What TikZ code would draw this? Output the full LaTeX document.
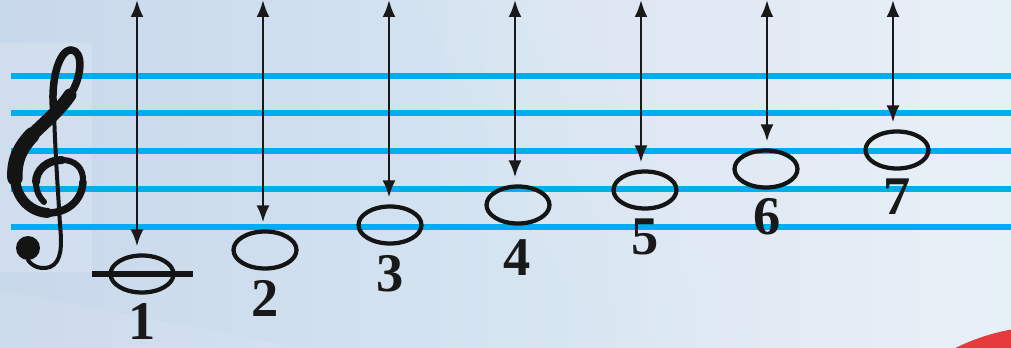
\documentclass[tikz,border=0pt]{standalone}
\usepackage{fontspec}
\setmainfont{Liberation Serif}
\usetikzlibrary{arrows.meta,shapes.geometric}
\definecolor{staffblue}{HTML}{00AEEF}
\definecolor{bgleft}{HTML}{C8D8EB}
\definecolor{bgright}{HTML}{E2F0F7}
\definecolor{ballred}{HTML}{E63B3B}
\begin{document}
\begin{tikzpicture}[x=0.02cm,y=-0.02cm,
  staff/.style={staffblue,line width=0.12cm},
  note/.style={ellipse,draw=black!92,line width=0.085cm,minimum width=1.26cm,minimum height=0.74cm,inner sep=0pt},
  num/.style={font=\fontsize{31}{31}\selectfont\bfseries,inner sep=0pt,text=black!90},
  dbl/.style={{Latex[length=0.34cm,width=0.26cm]}-{Latex[length=0.34cm,width=0.26cm]},line width=0.05cm,draw=black!90,shorten >=0.14cm},
  clefline/.style={line cap=round,line join=round,draw=black!92}
]
\useasboundingbox (0,0) rectangle (1011,348);
% background
\shade[left color=bgleft,right color=bgright] (0,0) rectangle (1011,348);
\foreach \k in {0,...,5}
  \fill[white,opacity=0.04] (420+30*\k,0) -- (1011,0) -- (1011,348) -- (600+30*\k,348) -- cycle;
\fill[white,opacity=0.08] (0,348) -- (0,290) -- (300,348) -- cycle;
\begin{scope}
  \clip (0,0) rectangle (1011,348);
  \fill[ballred] (1050,540) circle [radius=214];
\end{scope}
% clef box
\fill[white,opacity=0.15] (0,43) rectangle (92,272);
% staff
\foreach \yy in {76,113,151,189,227} \draw[staff] (11,\yy) -- (1011,\yy);
% treble clef
\draw[clefline,line width=0.08cm] (54,110) .. controls (55,150) and (58,190) .. (60,225)
  .. controls (62,245) and (62,262) .. (50,267) .. controls (40,270) and (32,266) .. (28,260);
\fill[black!92] (28,248) circle [radius=12];
\draw[clefline,line width=0.15cm] (54,112) .. controls (50,85) and (58,50) .. (71,50);
\draw[clefline,line width=0.15cm] (71,50) .. controls (84,50) and (82,78) .. (70,95);
\draw[clefline,line width=0.26cm] (70,95) .. controls (60,110) and (45,122) .. (32,135);
\draw[clefline,line width=0.31cm] (32,135) .. controls (20,148) and (14,160) .. (15,178);
\draw[clefline,line width=0.2cm] (15,178) .. controls (16,198) and (30,212) .. (48,213);
\draw[clefline,line width=0.15cm] (48,213) .. controls (68,213) and (82,200) .. (83,182);
\draw[clefline,line width=0.12cm] (83,182) .. controls (84,168) and (75,160) .. (62,160);
\draw[clefline,line width=0.16cm] (62,160) .. controls (47,160) and (36,170) .. (36,182);
\draw[clefline,line width=0.12cm] (36,182) .. controls (36,192) and (40,198) .. (44,202);
% ledger line
\draw[line width=0.12cm,black!92] (92,274) -- (193,274);
% notes
\node[note] (n1) at (142,274) {};
\node[note] (n2) at (265,250) {};
\node[note] (n3) at (390,225) {};
\node[note] (n4) at (518,205) {};
\node[note] (n5) at (645,190) {};
\node[note] (n6) at (766,169) {};
\node[note] (n7) at (897,150) {};
% arrows
\coordinate (a1) at (137,0);
\coordinate (a2) at (263,0);
\coordinate (a3) at (389,0);
\coordinate (a4) at (515,0);
\coordinate (a5) at (641,0);
\coordinate (a6) at (767,0);
\coordinate (a7) at (893,0);
\foreach \i in {1,...,7} \draw[dbl] (a\i) -- (a\i |- n\i.north);
% numbers
\node[num] (d1) at (142,322) {1};
\node[num] (d2) at (265,298) {2};
\node[num] (d3) at (390,274) {3};
\node[num] (d4) at (517,258) {4};
\node[num] (d5) at (645,237) {5};
\node[num] (d6) at (767,217) {6};
\node[num] (d7) at (897,197) {7};
\end{tikzpicture}
\end{document}
